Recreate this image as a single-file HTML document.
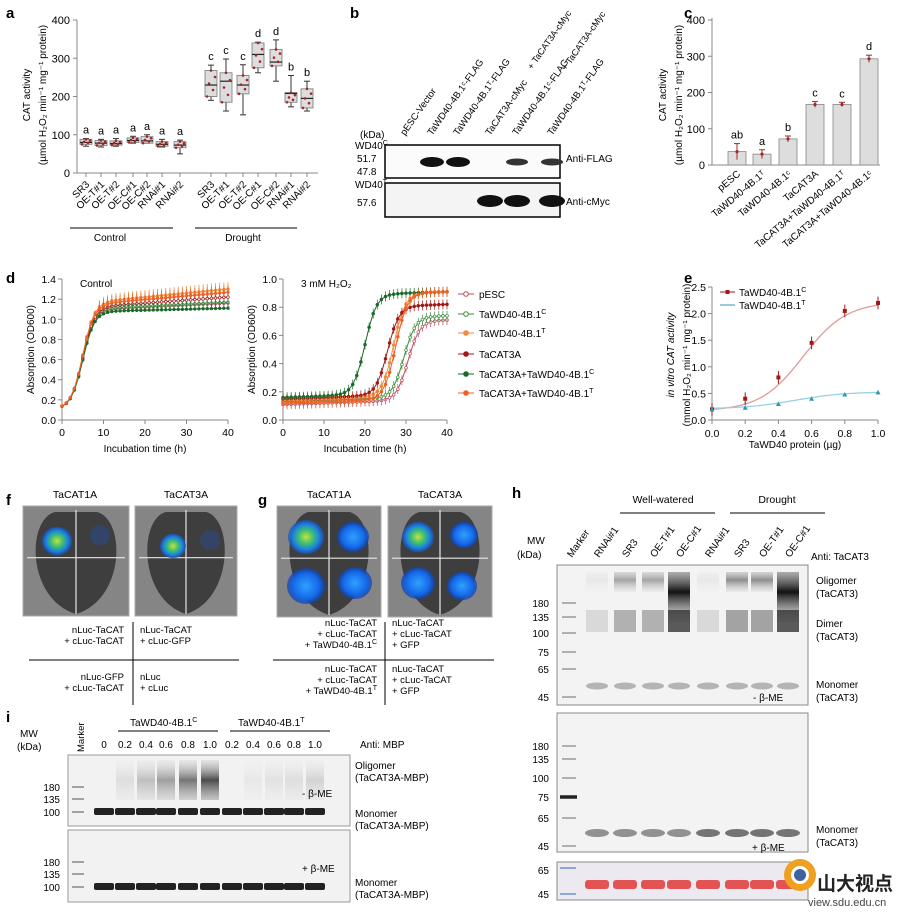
<!DOCTYPE html><html><head><meta charset="utf-8"><style>
body{margin:0;background:#fff;width:900px;height:909px;overflow:hidden}
svg{font-family:"Liberation Sans",Arial,sans-serif}
</style></head><body>
<svg id="s" width="900" height="909" viewBox="0 0 900 909" xmlns="http://www.w3.org/2000/svg">
<defs>
<radialGradient id="spot"><stop offset="0" stop-color="#c8e040"/><stop offset="0.4" stop-color="#40c070"/><stop offset="0.75" stop-color="#1a80e0"/><stop offset="1" stop-color="#1a50c0" stop-opacity="0.7"/></radialGradient>
<radialGradient id="bspot"><stop offset="0" stop-color="#30a0ff"/><stop offset="0.7" stop-color="#1468e8"/><stop offset="1" stop-color="#1040b0" stop-opacity="0.7"/></radialGradient>
<linearGradient id="oli" x1="0" y1="0" x2="0" y2="1"><stop offset="0" stop-color="#666" stop-opacity="0.5"/><stop offset="0.4" stop-color="#111"/><stop offset="1" stop-color="#888" stop-opacity="0.2"/></linearGradient>
<linearGradient id="oli2" x1="0" y1="0" x2="0" y2="1"><stop offset="0" stop-color="#999" stop-opacity="0.2"/><stop offset="0.5" stop-color="#222"/><stop offset="1" stop-color="#666" stop-opacity="0.4"/></linearGradient>
</defs>
<g font-size="11" fill="#000">
<text x="6" y="18" font-weight="bold" font-size="15">a</text>
<text x="350" y="18" font-weight="bold" font-size="15">b</text>
<text x="684" y="18" font-weight="bold" font-size="15">c</text>
<text x="6" y="283" font-weight="bold" font-size="15">d</text>
<text x="684" y="283" font-weight="bold" font-size="15">e</text>
<text x="6" y="505" font-weight="bold" font-size="15">f</text>
<text x="258" y="505" font-weight="bold" font-size="15">g</text>
<text x="512" y="498" font-weight="bold" font-size="15">h</text>
<text x="6" y="722" font-weight="bold" font-size="15">i</text>
</g>
<g id="a"></g><g id="b"></g><g id="c"></g><g id="d"></g><g id="e"></g><g id="f"></g><g id="h"></g><g id="i"></g>
<g><circle cx="800" cy="875" r="16" fill="#f0a020"/><circle cx="800" cy="875" r="9" fill="#fff"/><circle cx="800" cy="875" r="6" fill="#4060a0"/><text x="817" y="890" font-size="19" font-weight="bold" fill="#222" font-family="'Noto Sans CJK SC',sans-serif">山大视点</text><text x="808" y="906" font-size="11" fill="#444">view.sdu.edu.cn</text></g>
</svg>
<script>
const NS="http://www.w3.org/2000/svg";
function el(p,t,a,txt){const e=document.createElementNS(NS,t);for(const k in a)e.setAttribute(k,a[k]);if(txt!==undefined)e.textContent=txt;document.getElementById(p).appendChild(e);return e;}
function line(p,x1,y1,x2,y2,c,w){return el(p,'line',{x1,y1,x2,y2,stroke:c||'#000','stroke-width':w||1});}
function txt(p,x,y,s,o){o=o||{};const a={x,y,'font-size':o.fs||10,fill:o.fill||'#000'};if(o.anchor)a['text-anchor']=o.anchor;if(o.rot)a.transform=`rotate(${o.rot} ${x} ${y})`;if(o.fw)a['font-weight']=o.fw;if(o.it)a['font-style']='italic';return el(p,'text',a,s);}
function sup(p,x,y,s,sp,o){const t=txt(p,x,y,s,o);const ts=document.createElementNS(NS,'tspan');ts.setAttribute('dy','-4');ts.setAttribute('font-size','7');ts.textContent=sp;t.appendChild(ts);return t;}

// ---- panel a
(function(){const ax=77,y0=173,sc=153/400;const Y=v=>y0-v*sc;
line('a',ax,20,ax,y0,'#888');line('a',ax,y0,318,y0,'#888');
[0,100,200,300,400].forEach(v=>{line('a',ax-4,Y(v),ax,Y(v),'#888');txt('a',ax-7,Y(v)+4,v,{anchor:'end',fs:11});});
txt('a',30,95,'CAT activity',{rot:-90,anchor:'middle',fs:10});
txt('a',46,95,'(µmol H₂O₂ min⁻¹ mg⁻¹ protein)',{rot:-90,anchor:'middle',fs:10});
const xs=[86,101,116,133,147,162,180,211,226,243,258,276,291,307];
const d=[[80,75,88,70,90],[78,72,85,68,88],[77,73,84,70,90],[85,80,92,78,96],[84,78,95,78,100],[75,70,82,68,88],[73,66,82,50,86],
[230,200,268,190,282],[240,185,262,162,298],[230,207,255,152,283],[310,275,340,262,342],[290,280,323,240,348],[208,185,210,173,255],[195,170,220,162,240]];
const lt=['a','a','a','a','a','a','a','c','c','c','d','d','b','b'];
const names=['SR3','OE-T#1','OE-T#2','OE-C#1','OE-C#2','RNAi#1','RNAi#2'];
xs.forEach((x,i)=>{const [m,q1,q3,lo,hi]=d[i];line('a',x,Y(lo),x,Y(hi),'#333');line('a',x-3,Y(lo),x+3,Y(lo),'#333');line('a',x-3,Y(hi),x+3,Y(hi),'#333');
el('a','rect',{x:x-6,y:Y(q3),width:12,height:Y(q1)-Y(q3),fill:'#ddd',stroke:'#777','stroke-width':0.8});line('a',x-6,Y(m),x+6,Y(m),'#222',1.2);
for(let k=0;k<5;k++)el('a','circle',{cx:x-4+k*2,cy:Y(q1+(q3-q1)*((k*37)%5)/4),r:1.3,fill:'#a02828'});
txt('a',x,Y(hi)-5,lt[i],{anchor:'middle',fs:11});line('a',x,y0,x,y0+4,'#888');
txt('a',x+4,y0+12,names[i%7],{anchor:'end',rot:-45,fs:10});});
line('a',70,228,173,228,'#000');line('a',195,228,297,228,'#000');
txt('a',110,241,'Control',{anchor:'middle',fs:10});txt('a',243,241,'Drought',{anchor:'middle',fs:10});
})();

// ---- panel b
(function(){const L=['pESC-Vector','TaWD40-4B.1ᶜ-FLAG','TaWD40-4B.1ᵀ-FLAG','TaCAT3A-cMyc','TaWD40-4B.1ᶜ-FLAG','TaWD40-4B.1ᵀ-FLAG'];
const lx=[405,432,458,490,517,552];
L.forEach((s,i)=>txt('b',lx[i],136,s,{rot:-55,fs:9.5}));
txt('b',532,70,'+ TaCAT3A-cMyc',{rot:-55,fs:9});txt('b',566,71,'+ TaCAT3A-cMyc',{rot:-55,fs:9});
txt('b',360,138,'(kDa)',{fs:10});sup('b',355,149,'WD40','C',{fs:10});txt('b',357,162,'51.7',{fs:10});txt('b',357,175,'47.8',{fs:10});
sup('b',355,188,'WD40','T',{fs:10});txt('b',357,206,'57.6',{fs:10});
el('b','rect',{x:385,y:145,width:175,height:33,fill:'#fbfbfb',stroke:'#000','stroke-width':1.5});
el('b','rect',{x:385,y:183,width:175,height:34,fill:'#f4f4f4',stroke:'#000','stroke-width':1.5});
[432,458].forEach(x=>el('b','ellipse',{cx:x,cy:162,rx:12,ry:5,fill:'#111'}));
[517,552].forEach(x=>el('b','ellipse',{cx:x,cy:162,rx:11,ry:3.5,fill:'#333'}));
[490,517,552].forEach(x=>el('b','ellipse',{cx:x,cy:201,rx:13,ry:6,fill:'#111'}));
txt('b',566,162,'Anti-FLAG',{fs:10});txt('b',566,205,'Anti-cMyc',{fs:10});
})();

// ---- panel c
(function(){const ax=712,y0=165,sc=145/400,Y=v=>y0-v*sc;
line('c',ax,18,ax,y0,'#888');line('c',ax,y0,880,y0,'#888');
[0,100,200,300,400].forEach(v=>{line('c',ax-4,Y(v),ax,Y(v),'#888');txt('c',ax-7,Y(v)+4,v,{anchor:'end',fs:11});});
txt('c',666,95,'CAT activity',{rot:-90,anchor:'middle',fs:10});txt('c',682,95,'(µmol H₂O₂ min⁻¹ mg⁻¹ protein)',{rot:-90,anchor:'middle',fs:10});
const xs=[737,762,788,815,842,869],v=[37,30,72,167,167,293],e=[22,12,8,8,6,10],l=['ab','a','b','c','c','d'];
const n=['pESC','TaWD40-4B.1ᵀ','TaWD40-4B.1ᶜ','TaCAT3A','TaCAT3A+TaWD40-4B.1ᵀ','TaCAT3A+TaWD40-4B.1ᶜ'];
xs.forEach((x,i)=>{el('c','rect',{x:x-9,y:Y(v[i]),width:18,height:Y(0)-Y(v[i]),fill:'#ddd',stroke:'#888','stroke-width':0.8});
line('c',x,Y(v[i]-e[i]),x,Y(v[i]+e[i]),'#a02828');line('c',x-3,Y(v[i]+e[i]),x+3,Y(v[i]+e[i]),'#a02828');
el('c','circle',{cx:x,cy:Y(v[i]),r:1.6,fill:'#a02828'});txt('c',x,Y(v[i]+e[i])-5,l[i],{anchor:'middle',fs:11});
txt('c',x+4,y0+10,n[i],{anchor:'end',rot:-40,fs:10});});
})();

// ---- panel d
(function(){
function axes(x0,x1,y0,y1,ymax,step,title){line('d',x0,y1,x0,y0,'#888');line('d',x0,y0,x1,y0,'#888');
for(let v=0;v<=ymax+1e-9;v+=step){const y=y0-(v/ymax)*(y0-y1);line('d',x0-4,y,x0,y,'#888');txt('d',x0-6,y+4,v.toFixed(1),{anchor:'end',fs:10.5});}
for(let t=0;t<=40;t+=10){const x=x0+t/40*(x1-x0);line('d',x,y0,x,y0+4,'#888');txt('d',x,y0+16,t,{anchor:'middle',fs:10.5});}
txt('d',x0-28,(y0+y1)/2,'Absorption (OD600)',{rot:-90,anchor:'middle',fs:10});txt('d',(x0+x1)/2,y0+32,'Incubation time (h)',{anchor:'middle',fs:10});
txt('d',x0+18,y1+8,title,{fs:10});}
axes(62,228,420,279,1.4,0.2,'Control');axes(283,447,420,279,1.0,0.2,'3 mM H₂O₂');
const cols=['#b85060','#3c8c3c','#f08a3c','#a01818','#1a6a2a','#f06020'];
const sig=(t,m,k)=>1/(1+Math.exp(-(t-m)/k));
cols.forEach((c,j)=>{let pts=[],top=1.08+[0.02,0.03,0.1,0.05,0.0,0.08][j];
for(let t=0;t<=40;t+=1){const v=0.11+(top-0.11)*sig(t,5,1.4)+(t>10?(t-10)*0.002*[1,1,2,1.5,0.5,1.8][j]:0);pts.push([62+t/40*166,420-v/1.4*141]);}
el('d','polyline',{points:pts.map(p=>p.join(',')).join(' '),fill:'none',stroke:c,'stroke-width':1});
pts.forEach((p,k)=>{line('d',p[0],p[1],p[0],p[1]-(k>8?7:2),c,0.8);el('d','circle',{cx:p[0],cy:p[1],r:1.3,fill:j%3==0||j==1?'#fff':c,stroke:c,'stroke-width':0.7});});});
const par=[[0.11,0.67,30.5],[0.13,0.70,29.5],[0.14,0.87,27],[0.15,0.78,25.5],[0.16,0.87,20],[0.12,0.87,27.5]];
cols.forEach((c,j)=>{const [b,tp,m]=par[j];let pts=[];
for(let t=0;t<=40;t+=1){const v=b+t*0.001+(tp-b)*sig(t,m,1.4);pts.push([283+t/40*164,420-v*141]);}
el('d','polyline',{points:pts.map(p=>p.join(',')).join(' '),fill:'none',stroke:c,'stroke-width':1});
pts.forEach((p,k)=>{line('d',p[0],p[1]-5,p[0],p[1]+5,c,0.7);el('d','circle',{cx:p[0],cy:p[1],r:1.4,fill:(j==0||j==1)?'#fff':c,stroke:c,'stroke-width':0.7});});});
const lab=[['pESC',''],['TaWD40-4B.1','C'],['TaWD40-4B.1','T'],['TaCAT3A',''],['TaCAT3A+TaWD40-4B.1','C'],['TaCAT3A+TaWD40-4B.1','T']];
const ly=[298,318,337,358,378,397];
lab.forEach((l,j)=>{line('d',458,ly[j]-4,474,ly[j]-4,cols[j],1);el('d','circle',{cx:466,cy:ly[j]-4,r:2.3,fill:(j<2)?'#fff':cols[j],stroke:cols[j]});sup('d',479,ly[j],l[0],l[1],{fs:10});});
})();

// ---- panel e
(function(){const x0=712,x1=878,y0=420,y1=287,X=v=>x0+v*(x1-x0),Y=v=>y0-v/2.5*(y0-y1);
line('e',x0,y1,x0,y0,'#888');line('e',x0,y0,x1,y0,'#888');
[0,0.5,1,1.5,2,2.5].forEach(v=>{line('e',x0-4,Y(v),x0,Y(v),'#888');txt('e',x0-6,Y(v)+4,v.toFixed(1),{anchor:'end',fs:10.5});});
[0,0.2,0.4,0.6,0.8,1].forEach(v=>{line('e',X(v),y0,X(v),y0+4,'#888');txt('e',X(v),y0+17,v.toFixed(1),{anchor:'middle',fs:10.5});});
txt('e',795,448,'TaWD40 protein (µg)',{anchor:'middle',fs:10});
txt('e',674,355,'in vitro CAT activity',{rot:-90,anchor:'middle',fs:10,it:1});txt('e',690,355,'(mmol H₂O₂ min⁻¹ mg⁻¹ protein)',{rot:-90,anchor:'middle',fs:10});
let p1=[],p2=[];for(let v=0;v<=1.001;v+=0.02){p1.push([X(v),Y(0.2+2.05/(1+Math.exp(-(v-0.55)/0.13))-2.05/(1+Math.exp(0.55/0.13)))]);p2.push([X(v),Y(0.21+0.32/(1+Math.exp(-(v-0.5)/0.15)))]);}
el('e','polyline',{points:p1.map(p=>p.join(',')).join(' '),fill:'none',stroke:'#e09a9a','stroke-width':1.3});
el('e','polyline',{points:p2.map(p=>p.join(',')).join(' '),fill:'none',stroke:'#9ad0e0','stroke-width':1.3});
[[0,.2],[.2,.4],[.4,.8],[.6,1.45],[.8,2.05],[1,2.2]].forEach(([a,b])=>{line('e',X(a),Y(b-.12),X(a),Y(b+.12),'#a01818');el('e','rect',{x:X(a)-2,y:Y(b)-2,width:4,height:4,fill:'#a01818'});});
[[0,.2],[.2,.23],[.4,.3],[.6,.4],[.8,.48],[1,.52]].forEach(([a,b])=>{el('e','path',{d:`M${X(a)-2.5},${Y(b)+2} L${X(a)},${Y(b)-2.5} L${X(a)+2.5},${Y(b)+2}Z`,fill:'#2a98b8'});});
line('e',720,292,735,292,'#a01818');el('e','rect',{x:725.5,y:290,width:4,height:4,fill:'#a01818'});sup('e',739,296,'TaWD40-4B.1','C',{fs:10});
line('e',720,305,735,305,'#2a98b8');sup('e',739,309,'TaWD40-4B.1','T',{fs:10});
})();

// ---- panels f,g
(function(){
function leaf(x,y,w,h){el('f','rect',{x,y,width:w,height:h,fill:'#858585',stroke:'#aaa'});
el('f','path',{d:`M${x+w/2},${y+h-2} C${x+4},${y+h*0.85} ${x+3},${y+14} ${x+w*0.3},${y+6} L${x+w*0.7},${y+6} C${x+w-3},${y+14} ${x+w-4},${y+h*0.85} ${x+w/2},${y+h-2}Z`,fill:'#3e3e3e'});
line('f',x+w/2,y+4,x+w/2,y+h-2,'#e8e8e8',1.2);line('f',x+4,y+h*0.47,x+w-4,y+h*0.47,'#e8e8e8',1.2);}
function spot(cx,cy,r,g){el('f','ellipse',{cx,cy,rx:r,ry:r*0.95,fill:g?'url(#spot)':'url(#bspot)'});}
txt('f',75,498,'TaCAT1A',{anchor:'middle',fs:10.5});txt('f',186,498,'TaCAT3A',{anchor:'middle',fs:10.5});
txt('f',329,498,'TaCAT1A',{anchor:'middle',fs:10.5});txt('f',440,498,'TaCAT3A',{anchor:'middle',fs:10.5});
leaf(23,506,106,110);leaf(135,506,102,110);leaf(277,506,104,111);leaf(388,506,104,111);
spot(57,541,15,1);spot(173,546,13,1);
el('f','ellipse',{cx:100,cy:535,rx:10,ry:10,fill:'#2050c0',opacity:0.35});el('f','ellipse',{cx:210,cy:540,rx:10,ry:10,fill:'#2050c0',opacity:0.3});
spot(306,537,18,1);spot(353,537,16,0);spot(306,586,19,0);spot(355,583,17,0);
spot(418,537,16,1);spot(464,535,14,0);spot(418,583,17,0);spot(462,586,15,0);
const T=(x,y,a,b,c,anc)=>{const o={fs:9.5,anchor:anc};txt('f',x,y,a,o);txt('f',x,y+11,b,o);if(c)sup('f',x,y+22,c[0],c[1],o);};
line('f',133,622,133,705);line('f',29,660,239,660);
T(124,633,'nLuc-TaCAT','+ cLuc-TaCAT',null,'end');T(140,633,'nLuc-TaCAT','+ cLuc-GFP');T(124,680,'nLuc-GFP','+ cLuc-TaCAT',null,'end');T(140,680,'nLuc','+ cLuc');
line('f',385,622,385,705);line('f',273,660,494,660);
T(377,626,'nLuc-TaCAT','+ cLuc-TaCAT',['+ TaWD40-4B.1','C'],'end');T(392,626,'nLuc-TaCAT','+ cLuc-TaCAT');txt('f',392,648,'+ GFP',{fs:9.5});
T(377,672,'nLuc-TaCAT','+ cLuc-TaCAT',['+ TaWD40-4B.1','T'],'end');T(392,672,'nLuc-TaCAT','+ cLuc-TaCAT');txt('f',392,694,'+ GFP',{fs:9.5});
})();

// ---- panel h
(function(){const x0=557,x1=808;const lx=[597,625,653,679,708,737,762,788];
txt('h',663,503,'Well-watered',{anchor:'middle',fs:10.5});txt('h',777,503,'Drought',{anchor:'middle',fs:10.5});
line('h',620,513,715,513);line('h',730,513,825,513);
['Marker','RNAi#1','SR3','OE-T#1','OE-C#1','RNAi#1','SR3','OE-T#1','OE-C#1'].forEach((s,i)=>{const x=[570,597,625,653,679,708,737,762,788][i];txt('h',x+2,558,s,{rot:-55,fs:10});});
txt('h',527,544,'MW',{fs:10});txt('h',517,558,'(kDa)',{fs:10});txt('h',811,560,'Anti: TaCAT3',{fs:10});
el('h','rect',{x:x0,y:565,width:x1-x0,height:140,fill:'#f3f3f3',stroke:'#888'});
el('h','rect',{x:x0,y:713,width:x1-x0,height:139,fill:'#f3f3f3',stroke:'#888'});
el('h','rect',{x:x0,y:862,width:x1-x0,height:38,fill:'#eceaf0',stroke:'#888'});
[[180,603],[135,617],[100,633],[75,652],[65,669],[45,697]].forEach(([m,y])=>{txt('h',549,y+4,m,{anchor:'end',fs:10});line('h',562,y,576,y,'#999',1.5);});
[[180,746],[135,759],[100,778],[75,797],[65,818],[45,846]].forEach(([m,y])=>{txt('h',549,y+4,m,{anchor:'end',fs:10});line('h',562,y,576,y,'#999',1.5);});
line('h',560,797,577,797,'#222',3.5);
txt('h',549,874,'65',{anchor:'end',fs:10});txt('h',549,898,'45',{anchor:'end',fs:10});
line('h',560,868,576,868,'#7090d0',1.5);line('h',560,894,576,894,'#7090d0',1.5);
const I=[0.05,.35,.35,1,.05,.45,.45,1];
lx.forEach((x,i)=>{const a=I[i];el('h','rect',{x:x-11,y:572,width:22,height:a>0.9?50:20,fill:'url(#oli)',opacity:a});
el('h','rect',{x:x-11,y:610,width:22,height:22,fill:'#333',opacity:a*0.7+0.1});
el('h','ellipse',{cx:x,cy:686,rx:11,ry:3.5,fill:'#999',opacity:0.7});
el('h','ellipse',{cx:x,cy:833,rx:12,ry:4,fill:'#666',opacity:i<4?0.7:0.9});
el('h','rect',{x:x-12,y:880,width:24,height:9,rx:3,fill:'#e03838',opacity:0.85});});
txt('h',816,584,'Oligomer',{fs:10});txt('h',816,597,'(TaCAT3)',{fs:10});txt('h',816,627,'Dimer',{fs:10});txt('h',816,640,'(TaCAT3)',{fs:10});
txt('h',816,688,'Monomer',{fs:10});txt('h',816,701,'(TaCAT3)',{fs:10});txt('h',753,701,'- β-ME',{fs:10});
txt('h',816,833,'Monomer',{fs:10});txt('h',816,846,'(TaCAT3)',{fs:10});txt('h',752,851,'+ β-ME',{fs:10});
})();

// ---- panel i
(function(){const x0=68,x1=350;
txt('i',20,737,'MW',{fs:10});txt('i',17,750,'(kDa)',{fs:10});txt('i',84,752,'Marker',{rot:-90,fs:9.5});
sup('i',130,726,'TaWD40-4B.1','C',{fs:10});sup('i',238,726,'TaWD40-4B.1','T',{fs:10});line('i',118,731,218,731);line('i',230,731,330,731);
const lv=['0','0.2','0.4','0.6','0.8','1.0','0.2','0.4','0.6','0.8','1.0'],lx=[104,125,146,166,188,210,232,253,274,294,315];
lv.forEach((s,i)=>txt('i',lx[i],748,s,{anchor:'middle',fs:10}));txt('i',360,748,'Anti: MBP',{fs:10});
el('i','rect',{x:x0,y:755,width:x1-x0,height:71,fill:'#f2f2f2',stroke:'#999'});
el('i','rect',{x:x0,y:830,width:x1-x0,height:72,fill:'#f2f2f2',stroke:'#999'});
[[180,787],[135,799],[100,812]].forEach(([m,y])=>{txt('i',60,y+4,m,{anchor:'end',fs:10});line('i',72,y,84,y,'#888',1.5);});
[[180,862],[135,874],[100,887]].forEach(([m,y])=>{txt('i',60,y+4,m,{anchor:'end',fs:10});line('i',72,y,84,y,'#888',1.5);});
const I=[0,.1,.25,.4,.6,.8,0,.05,.08,.1,.15];
lx.forEach((x,i)=>{el('i','rect',{x:x-9,y:760,width:18,height:40,fill:'url(#oli2)',opacity:I[i]});
el('i','rect',{x:x-10,y:808,width:20,height:7,rx:2,fill:'#222'});el('i','rect',{x:x-10,y:883,width:20,height:7,rx:2,fill:'#222'});});
txt('i',355,769,'Oligomer',{fs:10});txt('i',355,781,'(TaCAT3A-MBP)',{fs:10});txt('i',355,817,'Monomer',{fs:10});txt('i',355,829,'(TaCAT3A-MBP)',{fs:10});
txt('i',355,886,'Monomer',{fs:10});txt('i',355,898,'(TaCAT3A-MBP)',{fs:10});
txt('i',302,797,'- β-ME',{fs:10});txt('i',302,872,'+ β-ME',{fs:10});
})();
</script>
</body></html>
